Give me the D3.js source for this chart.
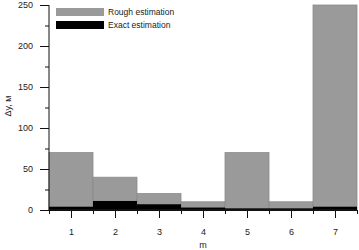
<!DOCTYPE html>
<html>
<head>
<meta charset="utf-8">
<script src="https://cdn.jsdelivr.net/npm/d3@7"></script>
<style>
body{margin:0;background:#fff;}
text{font-family:"Liberation Sans",Arial,sans-serif;fill:#222;}
</style>
</head>
<body>
<div id="chart"></div>
<script>
var categories = [1, 2, 3, 4, 5, 6, 7];
var rough = [70, 40, 20, 10, 70, 10, 250];
var exact = [4, 11, 7, 3, 2, 2, 4];
var yTicks = [0, 50, 100, 150, 200, 250];
var seriesNames = ["Rough estimation", "Exact estimation"];

var svgWidth = 359, svgHeight = 250;
var margin = {top:5, left:49, right:2, bottom:40};
var width = svgWidth - margin.left - margin.right;
var height = svgHeight - margin.top - margin.bottom;

var svg = d3.select("#chart").append("svg").attr("width", svgWidth).attr("height", svgHeight);
var g = svg.append("g").attr("transform", `translate(${margin.left},${margin.top})`);

var xScale = d3.scaleLinear().domain([0.5, 7.5]).range([0, width]);
var yScale = d3.scaleLinear().domain([0, 250]).range([height, 0]);
var bw = xScale(1.5) - xScale(0.5);

g.selectAll(".rough").data(categories).enter().append("rect")
  .attr("x", d => xScale(d - 0.5)).attr("width", bw)
  .attr("y", (d, i) => yScale(rough[i])).attr("height", (d, i) => yScale(0) - yScale(rough[i]))
  .attr("fill", "#9a9a9a").attr("stroke", "#8a8a8a").attr("stroke-width", 0.8);

g.selectAll(".exact").data(categories).enter().append("rect")
  .attr("x", d => xScale(d - 0.5)).attr("width", bw)
  .attr("y", (d, i) => yScale(exact[i])).attr("height", (d, i) => yScale(0) - yScale(exact[i]))
  .attr("fill", "#000");

// x axis
var xAxis = g.append("g").attr("transform", `translate(0,${height})`)
  .call(d3.axisBottom(xScale).tickValues(categories).tickSize(8).tickPadding(11).tickFormat(d3.format("d")));
g.append("g").attr("transform", `translate(0,${height})`)
  .call(d3.axisBottom(xScale).tickValues(d3.range(0.5, 7.6, 1)).tickSize(4).tickFormat(""))
  .select(".domain").remove();
xAxis.select(".domain").attr("stroke-width", 2).attr("d", `M0,0H${width}`);

// y axis
var yAxis = g.append("g")
  .call(d3.axisLeft(yScale).tickValues(yTicks).tickSize(9).tickPadding(7));
g.append("g")
  .call(d3.axisLeft(yScale).tickValues(d3.range(25, 250, 50)).tickSize(4).tickFormat(""))
  .select(".domain").remove();
yAxis.select(".domain").attr("d", `M0,${height}V0`);

svg.selectAll(".tick text").attr("font-size", 9).attr("fill", "#222");
svg.selectAll(".tick line, .domain").attr("stroke", "#111");

svg.append("text").attr("x", margin.left + xScale(4)).attr("y", 248)
  .attr("text-anchor", "middle").attr("font-size", 9).text("m");
svg.append("text").attr("transform", "translate(11,106) rotate(-90)")
  .attr("text-anchor", "middle").attr("font-size", 9).text("Δy, м");

// legend
var legend = svg.append("g").attr("transform", "translate(56,8)");
legend.selectAll("rect").data(seriesNames).enter().append("rect")
  .attr("x", 0).attr("y", (d, i) => i * 13).attr("width", 48).attr("height", 8)
  .attr("fill", (d, i) => i === 0 ? "#9a9a9a" : "#000");
legend.selectAll("text").data(seriesNames).enter().append("text")
  .attr("x", 52).attr("y", (d, i) => i * 13 + 7).attr("font-size", 8.5).text(d => d);
</script>
</body>
</html>
